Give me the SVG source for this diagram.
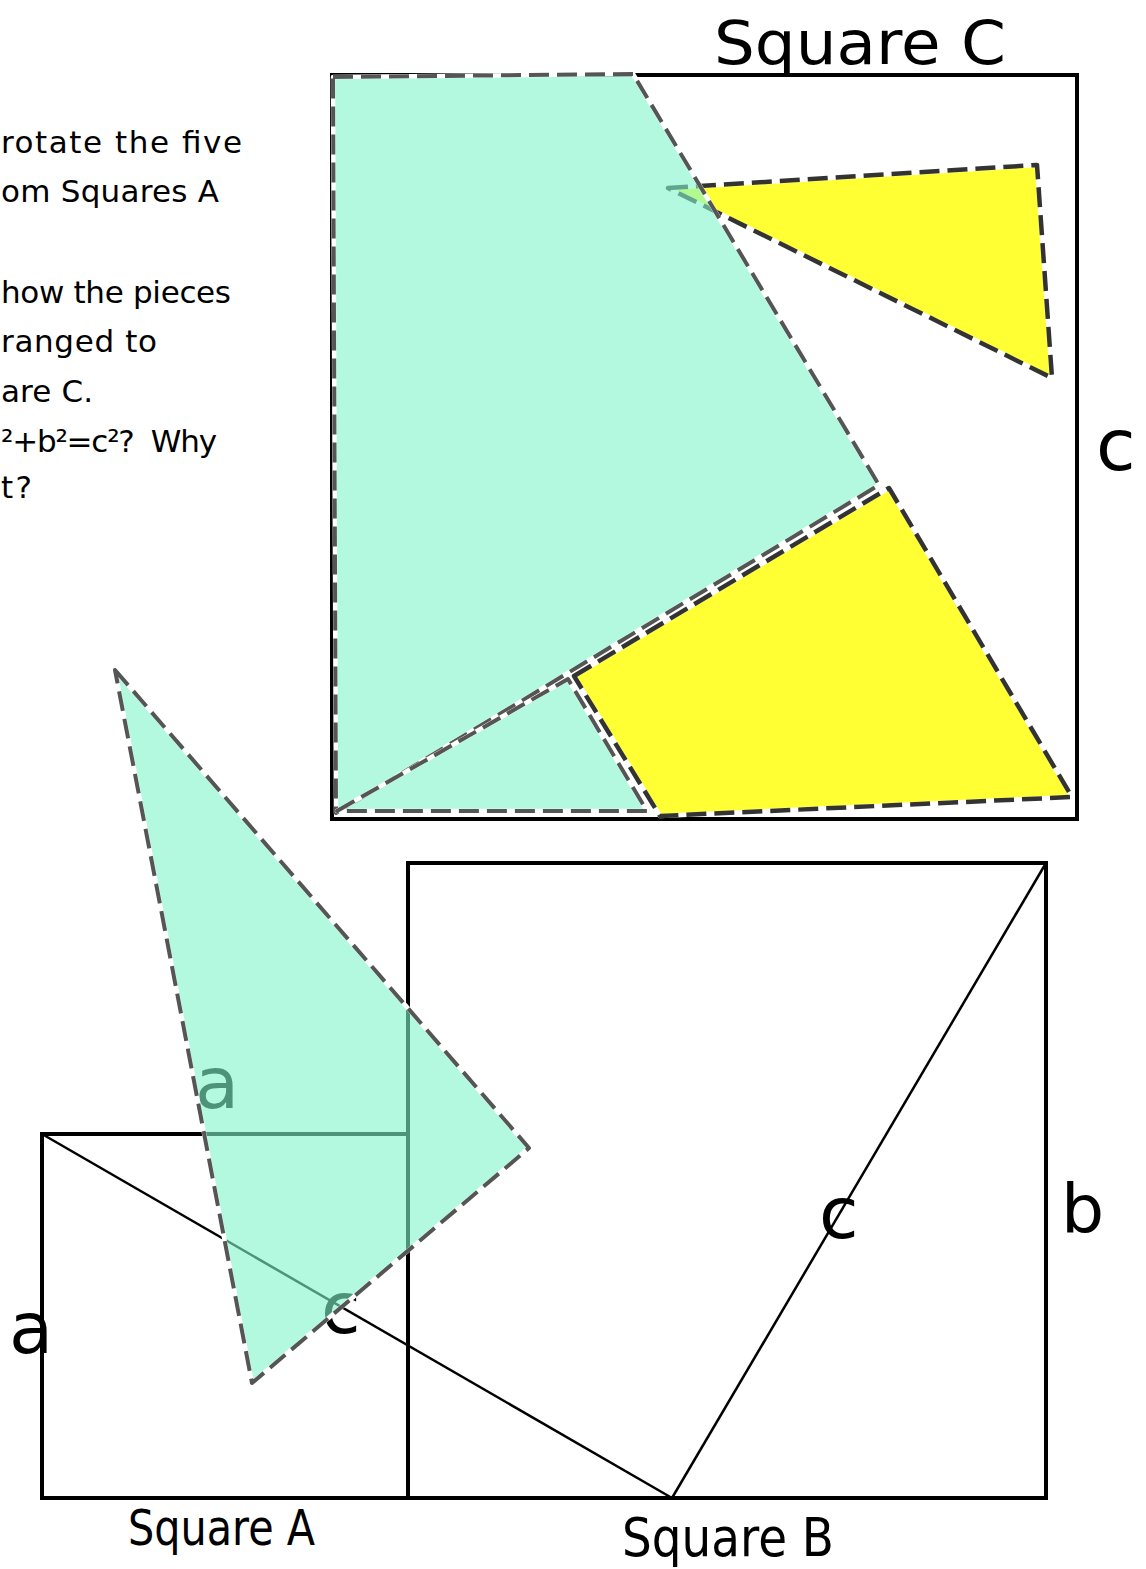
<svg xmlns="http://www.w3.org/2000/svg" width="1146" height="1569" viewBox="0 0 1146 1569">
<style>
.frame{fill:none;stroke:#000;stroke-width:4}
.diag{fill:none;stroke:#000;stroke-width:2.5}
.under{fill:none;stroke:#fff;stroke-width:4.5;stroke-linejoin:round}
.teal{fill:#7ff5cc;fill-opacity:0.6}
.tealdash{fill:none;stroke:#555;stroke-width:4;stroke-dasharray:20 8;stroke-linejoin:round}
.yellow{fill:#ffff33}
.yeldash{fill:none;stroke:#333;stroke-width:4.5;stroke-dasharray:20 8;stroke-linejoin:round}
.lbl{font-family:"DejaVu Sans",sans-serif;fill:#000}
.txt{font-family:"DejaVu Sans",sans-serif;font-size:31px;fill:#000}
</style>
<rect width="1146" height="1569" fill="#fff"/>
<g id="instructions">
<text class="txt" x="1" y="153" textLength="241" lengthAdjust="spacing">rotate the five</text>
<text class="txt" x="1" y="202" textLength="218" lengthAdjust="spacing">om Squares A</text>
<text class="txt" x="1" y="303" textLength="230" lengthAdjust="spacing">how the pieces</text>
<text class="txt" x="1" y="352" textLength="156" lengthAdjust="spacing">ranged to</text>
<text class="txt" x="1" y="402" textLength="92" lengthAdjust="spacing">are C.</text>
<text class="txt" x="1" y="452" textLength="216" lengthAdjust="spacing" xml:space="preserve">²+b²=c²?  Why</text>
<text class="txt" x="1" y="498" textLength="31" lengthAdjust="spacing">t?</text>
</g>
<g id="squareC">
<rect class="frame" x="332" y="75" width="745" height="744"/>
<text class="lbl" x="714" y="64" font-size="60" textLength="292" lengthAdjust="spacingAndGlyphs">Square C</text>
<text class="lbl" x="1096" y="470" font-size="72">c</text>
</g>
<g id="yellowTriangle">
<polygon class="yellow" points="668,188 1037,165 1052,378"/>
<polygon class="under" points="668,188 1037,165 1052,378"/>
<polygon class="yeldash" points="668,188 1037,165 1052,378"/>
</g>
<g id="tealBigPiece">
<polygon class="teal" points="333,77 633,74 879,485 336,813"/>
<polygon class="under" points="333,77 633,74 879,485 336,813"/>
<polygon class="tealdash" points="333,77 633,74 879,485 336,813"/>
</g>
<g id="tealSmallPiece">
<polygon class="teal" points="337,811 568,679 647,811"/>
<polygon class="under" points="337,811 568,679 647,811"/>
<polygon class="tealdash" points="337,811 568,679 647,811"/>
</g>
<g id="yellowQuad">
<polygon class="yellow" points="574,676 889,488 1072,797 660,816"/>
<polygon class="under" points="574,676 889,488 1072,797 660,816"/>
<polygon class="yeldash" points="574,676 889,488 1072,797 660,816"/>
</g>
<g id="squareA">
<rect class="frame" x="42" y="1134" width="366" height="364"/>
<text class="lbl" x="9" y="1353" font-size="72">a</text>
<text class="lbl" x="128" y="1545" font-size="50" textLength="187" lengthAdjust="spacingAndGlyphs">Square A</text>
</g>
<g id="squareB">
<rect class="frame" x="408" y="863" width="638" height="635"/>
<text class="lbl" x="1061" y="1233" font-size="68">b</text>
<text class="lbl" x="622" y="1556" font-size="54" textLength="212" lengthAdjust="spacingAndGlyphs">Square B</text>
</g>
<g id="connectors">
<line class="diag" x1="42" y1="1134" x2="672" y2="1498"/>
<line class="diag" x1="672" y1="1498" x2="1046" y2="863"/>
</g>
<g id="edgeLabels">
<text class="lbl" x="321" y="1333" font-size="72">c</text>
<text class="lbl" x="819" y="1238" font-size="72">c</text>
<text class="lbl" x="195" y="1108" font-size="72">a</text>
</g>
<g id="floatingTriangle">
<polygon class="teal" points="115,670 529,1148 252,1383"/>
<polygon class="under" points="115,670 529,1148 252,1383"/>
<polygon class="tealdash" points="115,670 529,1148 252,1383"/>
</g>
</svg>
